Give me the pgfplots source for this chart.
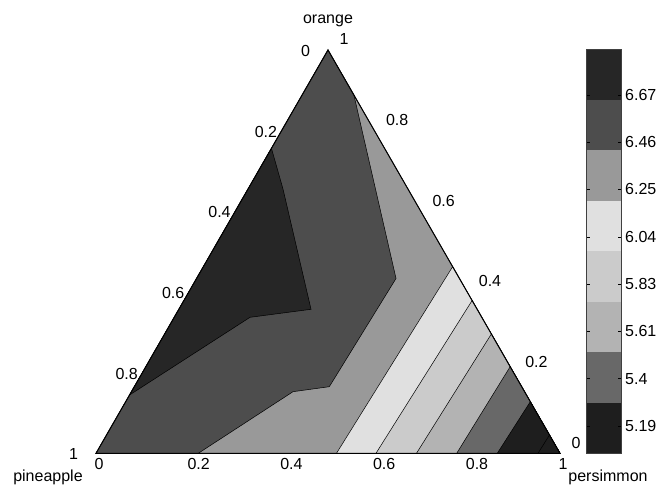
\documentclass[border=0pt]{standalone}
\usepackage{pgfplots}
\pgfplotsset{compat=1.18}
\usepackage{fontspec}
\setmainfont{Liberation Sans}
\definecolor{cA}{HTML}{262626}
\definecolor{cB}{HTML}{4D4D4D}
\definecolor{cC}{HTML}{999999}
\definecolor{cD}{HTML}{E0E0E0}
\definecolor{cE}{HTML}{CBCBCB}
\definecolor{cF}{HTML}{B3B3B3}
\definecolor{cG}{HTML}{686868}
\definecolor{cH}{HTML}{1E1E1E}
\newcommand{\tl}{\fontsize{16bp}{19bp}\selectfont}
\begin{document}
\begin{tikzpicture}[
  lft/.style={anchor=west, inner sep=0pt, font=\tl, xshift=-27bp, yshift=-1bp},
  rgt/.style={anchor=west, inner sep=0pt, font=\tl, xshift=11.5bp, yshift=10.5bp},
  bot/.style={anchor=west, inner sep=0pt, font=\tl, xshift=-1.5bp, yshift=-11bp}]
\useasboundingbox (0,0) rectangle (661bp,486bp);
% ---------------- ternary field ----------------
\begin{axis}[at={(96bp,32.7bp)}, anchor=south west,
  x=464bp, y=465.7bp, xmin=0, xmax=1, ymin=0, ymax=0.866,
  hide axis, clip=false]
\addplot[fill=cC, draw=black, line width=0.5bp] coordinates {(0,0) (1,0) (0.5,0.866)} -- cycle;
\addplot[fill=cB, draw=black, line width=0.5bp] coordinates {(0.5,0.866) (0.5558,0.7694) (0.6466,0.3754) (0.5028,0.1430) (0.4246,0.1323) (0.2205,0) (0,0)} -- cycle;
\addplot[fill=cA, draw=black, line width=0.5bp] coordinates {(0.3781,0.6549) (0.4030,0.5675) (0.4634,0.3092) (0.3319,0.2920) (0.0723,0.1252)} -- cycle;
\addplot[fill=cD, draw=black, line width=0.5bp] coordinates {(0.7686,0.4007) (0.5183,0) (1,0)} -- cycle;
\addplot[fill=cE, draw=black, line width=0.5bp] coordinates {(0.8106,0.3281) (0.6034,0) (1,0)} -- cycle;
\addplot[fill=cF, draw=black, line width=0.5bp] coordinates {(0.8521,0.2562) (0.6907,0) (1,0)} -- cycle;
\addplot[fill=cG, draw=black, line width=0.5bp] coordinates {(0.8926,0.1860) (0.7774,0) (1,0)} -- cycle;
\addplot[fill=cH, draw=black, line width=0.5bp] coordinates {(0.9360,0.1108) (0.8649,0) (1,0)} -- cycle;
\addplot[fill=cH, draw=black, line width=0.5bp] coordinates {(0.9773,0.0393) (0.9526,0) (1,0)} -- cycle;
\addplot[draw=black, line width=1bp] coordinates {(0,0) (1,0) (0.5,0.866)} -- cycle;
% left edge labels
\node[lft] at (axis cs:0.5,0.866) {0};
\node[lft] at (axis cs:0.4,0.6928) {0.2};
\node[lft] at (axis cs:0.3,0.5196) {0.4};
\node[lft] at (axis cs:0.2,0.3464) {0.6};
\node[lft] at (axis cs:0.1,0.1732) {0.8};
\node[lft] at (axis cs:0,0) {1};
% right edge labels
\node[rgt] at (axis cs:0.5,0.866) {1};
\node[rgt] at (axis cs:0.6,0.6928) {0.8};
\node[rgt] at (axis cs:0.7,0.5196) {0.6};
\node[rgt] at (axis cs:0.8,0.3464) {0.4};
\node[rgt] at (axis cs:0.9,0.1732) {0.2};
\node[rgt] at (axis cs:1,0) {0};
% bottom labels
\node[bot] at (axis cs:0,0) {0};
\node[bot] at (axis cs:0.2,0) {0.2};
\node[bot] at (axis cs:0.4,0) {0.4};
\node[bot] at (axis cs:0.6,0) {0.6};
\node[bot] at (axis cs:0.8,0) {0.8};
\node[bot] at (axis cs:1,0) {1};
\node[font=\tl, inner sep=0pt] at ([yshift=29bp]axis cs:0.5,0.866) {orange};
\node[font=\tl, inner sep=0pt] at ([xshift=-48bp,yshift=-24.5bp]axis cs:0,0) {pineapple};
\node[font=\tl, inner sep=0pt] at ([xshift=48bp,yshift=-24.2bp]axis cs:1,0) {persimmon};
\end{axis}
% ---------------- colour bar ----------------
\begin{axis}[at={(586.7bp,32.7bp)}, anchor=south west,
  x=34.3bp, y=50.5bp, xmin=0, xmax=1, ymin=0, ymax=8,
  xtick=\empty,
  ytick={0.541,1.477,2.414,3.350,4.287,5.224,6.160,7.097},
  yticklabels={5.19,5.4,5.61,5.83,6.04,6.25,6.46,6.67},
  ytick pos=both, yticklabel pos=right, tick align=inside,
  major tick length=3bp, tick style={black, line width=0.5bp},
  axis line style={line width=0.6bp, black!75},
  yticklabel style={font=\tl, inner sep=0pt, xshift=4bp},
  /pgf/number format/assume math mode=true,
  axis on top]
\addplot[fill=cH, draw=none] coordinates {(0,0) (1,0) (1,1) (0,1)} -- cycle;
\addplot[fill=cG, draw=none] coordinates {(0,1) (1,1) (1,2) (0,2)} -- cycle;
\addplot[fill=cF, draw=none] coordinates {(0,2) (1,2) (1,3) (0,3)} -- cycle;
\addplot[fill=cE, draw=none] coordinates {(0,3) (1,3) (1,4) (0,4)} -- cycle;
\addplot[fill=cD, draw=none] coordinates {(0,4) (1,4) (1,5) (0,5)} -- cycle;
\addplot[fill=cC, draw=none] coordinates {(0,5) (1,5) (1,6) (0,6)} -- cycle;
\addplot[fill=cB, draw=none] coordinates {(0,6) (1,6) (1,7) (0,7)} -- cycle;
\addplot[fill=cA, draw=none] coordinates {(0,7) (1,7) (1,8) (0,8)} -- cycle;
\end{axis}
\end{tikzpicture}
\end{document}
